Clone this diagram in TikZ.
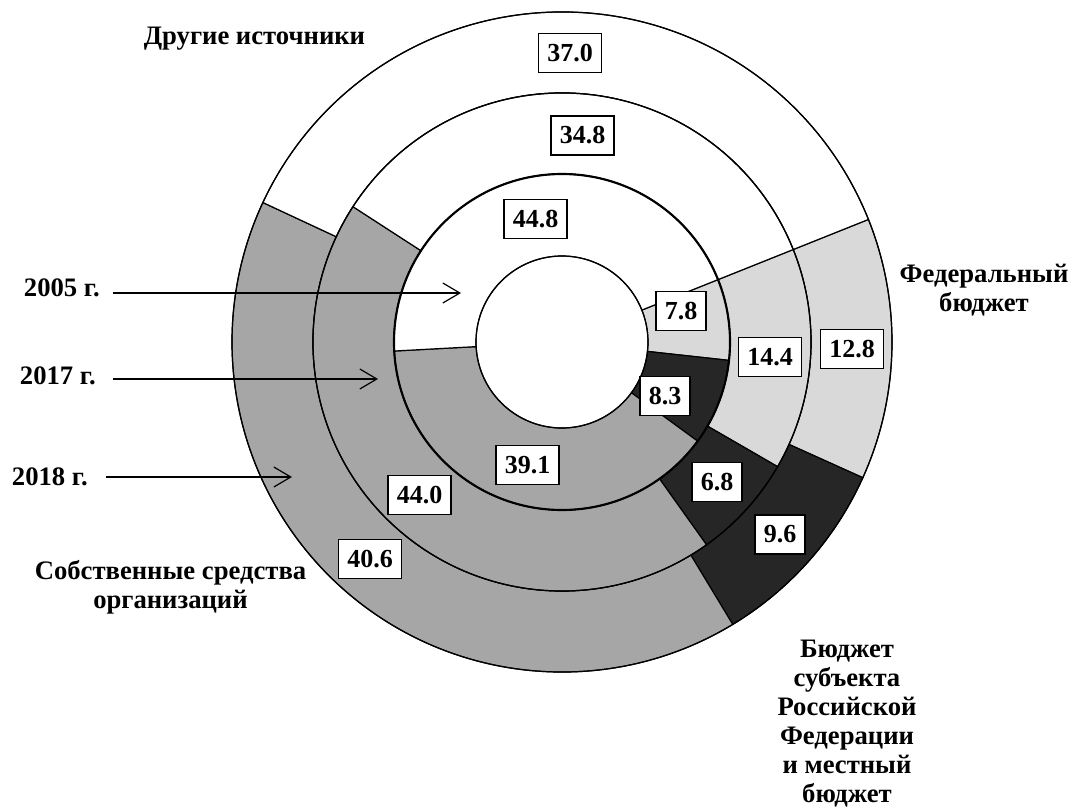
\documentclass[tikz,border=0pt]{standalone}
\usepackage{fontspec}
\setmainfont{Liberation Serif}
\usetikzlibrary{arrows.meta}
\definecolor{cOwn}{HTML}{A6A6A6}
\definecolor{cFed}{HTML}{D9D9D9}
\definecolor{cReg}{HTML}{262626}
\newcommand\ringseg[5]{%
  \filldraw[seg,#1] (#2:#4) arc[start angle=#2,end angle=#3,radius=#4]
    -- (#3:#5) arc[start angle=#3,end angle=#2,radius=#5] -- cycle;}
\begin{document}
\begin{tikzpicture}[x=0.75pt,y=-0.75pt,
  seg/.style={line width=0.9pt,draw=black,line join=round},
  ring/.style={line width=0.9pt,draw=black},
  numbox/.style={draw=black,fill=white,line width=1.1pt,
    font=\bfseries\fontsize{19.5pt}{22pt}\selectfont,
    inner xsep=6.5pt,inner ysep=0pt,minimum height=29.5pt},
  lbl/.style={font=\bfseries\fontsize{20pt}{21.75pt}\selectfont,align=center,inner sep=0pt},
  arr/.style={line width=0.9pt,-{Straight Barb[length=12.75pt,width=15pt]}}]
\useasboundingbox (0,0) rectangle (1072,811);
\begin{scope}[shift={(562,342)}]
  % 2018 ring
  \ringseg{fill=cFed}{-21.8}{24.28}{330}{249}
  \ringseg{fill=cReg}{24.28}{58.84}{330}{249}
  \ringseg{fill=cOwn}{58.84}{205.0}{330}{249}
  \ringseg{fill=white}{205.0}{338.2}{330}{249}
  % 2017 ring
  \ringseg{fill=cFed}{-21.8}{30.04}{249}{168}
  \ringseg{fill=cReg}{30.04}{54.52}{249}{168}
  \ringseg{fill=cOwn}{54.52}{212.92}{249}{168}
  \ringseg{fill=white}{212.92}{338.2}{249}{168}
  % 2005 ring
  \ringseg{fill=cFed}{-21.8}{6.28}{168}{86}
  \ringseg{fill=cReg}{6.28}{36.16}{168}{86}
  \ringseg{fill=cOwn}{36.16}{176.92}{168}{86}
  \ringseg{fill=white}{176.92}{338.2}{168}{86}
  \draw[ring] (0,0) circle[radius=86];
  \draw[ring] (0,0) circle[radius=249];
  \draw[ring] (0,0) circle[radius=330];
  \draw[ring,line width=1.6pt] (0,0) circle[radius=168];
\end{scope}
% value boxes
\node[numbox] (v370) at (570,53) {37.0};
\node[numbox] (v348) at (582.5,135.5) {34.8};
\node[numbox] (v448) at (535.5,219) {44.8};
\node[numbox] (v78) at (681,311) {7.8};
\node[numbox] (v144) at (770,357) {14.4};
\node[numbox] (v128) at (852,349) {12.8};
\node[numbox] (v83) at (665,396) {8.3};
\node[numbox] (v68) at (717,482) {6.8};
\node[numbox] (v96) at (780,534.5) {9.6};
\node[numbox] (v391) at (527.5,465) {39.1};
\node[numbox] (v440) at (419.5,495) {44.0};
\node[numbox] (v406) at (370,559) {40.6};
% labels
\node[lbl,anchor=base] (lOther) at (254.5,44) {Другие источники};
\node[lbl,anchor=north] (lFed) at (984,263.5) {Федеральный\\бюджет};
\node[lbl,anchor=north] (lOwn) at (170.5,560) {Собственные средства\\организаций};
\node[lbl,anchor=north] (lReg) at (847,639.5) {Бюджет\\субъекта\\Российской\\Федерации\\и местный\\бюджет};
\node[lbl,anchor=base east] (y2005) at (100,296) {2005 г.};
\node[lbl,anchor=base east] (y2017) at (96,384) {2017 г.};
\node[lbl,anchor=base east] (y2018) at (88,485) {2018 г.};
% arrows
\coordinate (s2005) at (113,293);
\coordinate (t2005) at (461,293);
\coordinate (s2017) at (113,379);
\coordinate (t2017) at (378,379);
\coordinate (s2018) at (106,477);
\coordinate (t2018) at (292,477);
\draw[arr] (s2005) -- (t2005);
\draw[arr] (s2017) -- (t2017);
\draw[arr] (s2018) -- (t2018);
\end{tikzpicture}
\end{document}
